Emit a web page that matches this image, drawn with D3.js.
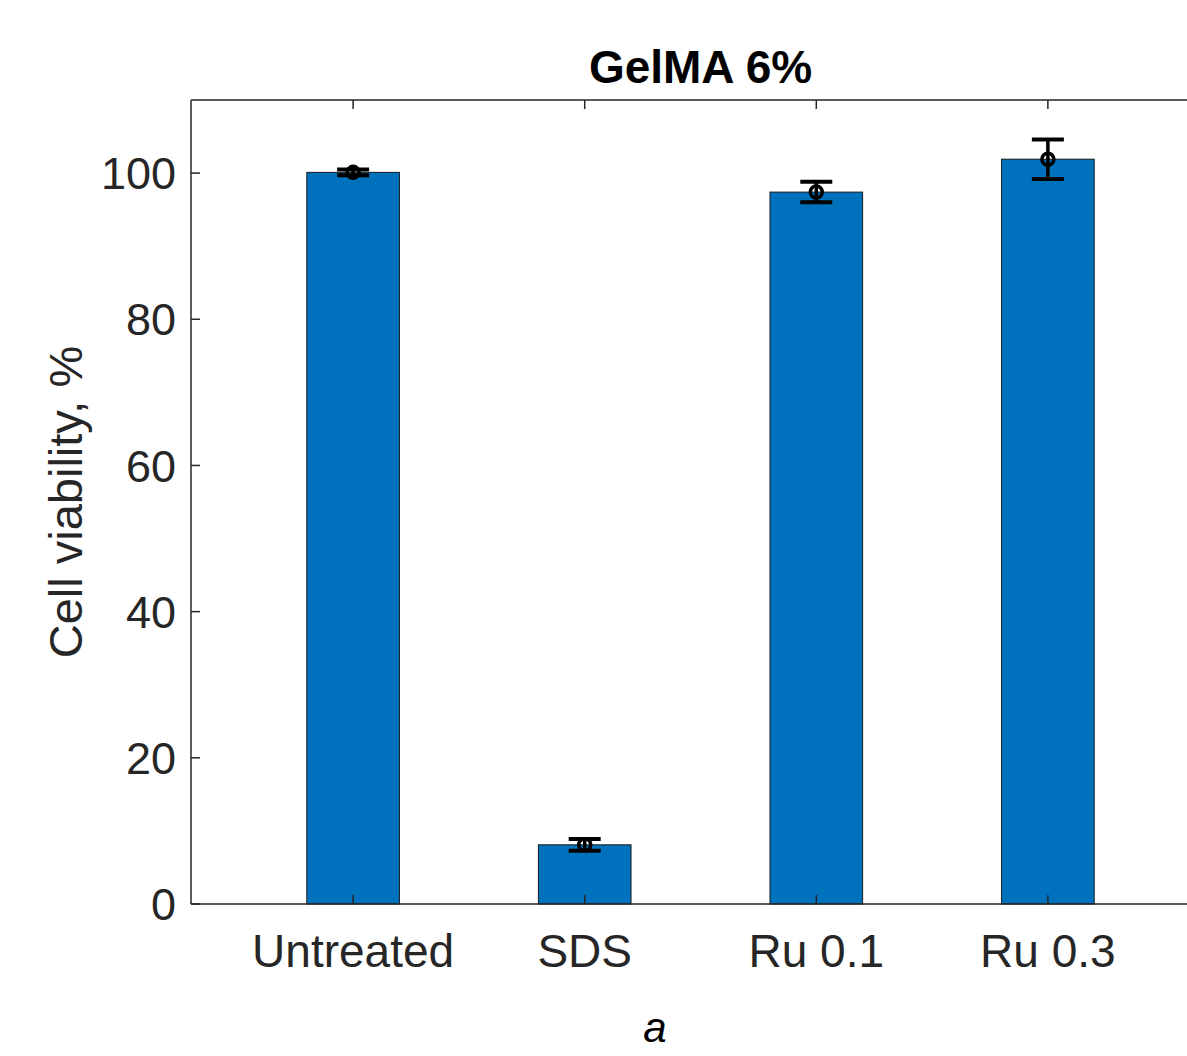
<!DOCTYPE html>
<html>
<head>
<meta charset="utf-8">
<script src="https://cdn.jsdelivr.net/npm/d3@7"></script>
<style>
  body { margin: 0; background: #fff; }
  text { font-family: "Liberation Sans", Arial, sans-serif; fill: #262626; }
</style>
</head>
<body>
<div id="chart"></div>
<script>
const categories = ["Untreated", "SDS", "Ru 0.1", "Ru 0.3"];
const means = [100.1, 8.1, 97.4, 101.9];
const errors = [0.4, 0.8, 1.4, 2.7];
const yTicks = [0, 20, 40, 60, 80, 100];

const svgWidth = 1187, svgHeight = 1056;
const margin = { top: 100, left: 191, bottom: 152 };
const plotWidth = 1210 - margin.left;   // axes box runs past the right edge
const plotHeight = svgHeight - margin.top - margin.bottom;

const svg = d3.select("#chart").append("svg")
  .attr("width", svgWidth)
  .attr("height", svgHeight);

const g = svg.append("g")
  .attr("transform", `translate(${margin.left}, ${margin.top})`);

// x positions 1..4 with limits like MATLAB
const x = d3.scaleLinear().domain([0.3, 4.7]).range([0, plotWidth]);
const y = d3.scaleLinear().domain([0, 110]).range([plotHeight, 0]);
const barW = x(1.4) - x(1);

// bars
g.selectAll("rect.bar")
  .data(means).enter()
  .append("rect")
  .attr("x", (d, i) => x(i + 1) - barW / 2)
  .attr("y", d => y(d))
  .attr("width", barW)
  .attr("height", d => y(0) - y(d))
  .attr("fill", "#0072BD")
  .attr("stroke", "#1a1a1a")
  .attr("stroke-width", 1);

// axes box
const lineCol = "#262626";
g.append("line").attr("x1", 0).attr("x2", plotWidth).attr("y1", plotHeight).attr("y2", plotHeight)
  .attr("stroke", lineCol).attr("stroke-width", 1.5);
g.append("line").attr("x1", 0).attr("x2", plotWidth).attr("y1", 0).attr("y2", 0)
  .attr("stroke", lineCol).attr("stroke-width", 1.5);
g.append("line").attr("x1", 0).attr("x2", 0).attr("y1", 0).attr("y2", plotHeight)
  .attr("stroke", lineCol).attr("stroke-width", 1.5);

// y ticks (inward) and labels
yTicks.forEach(t => {
  g.append("line").attr("x1", 0).attr("x2", 9).attr("y1", y(t)).attr("y2", y(t))
    .attr("stroke", lineCol).attr("stroke-width", 1.5);
  g.append("text")
    .attr("x", -15).attr("y", y(t)).attr("dy", "0.36em")
    .attr("text-anchor", "end")
    .attr("font-size", 45)
    .text(t);
});

// x ticks (inward, top and bottom) and labels
categories.forEach((c, i) => {
  const xx = x(i + 1);
  g.append("line").attr("x1", xx).attr("x2", xx).attr("y1", plotHeight).attr("y2", plotHeight - 9)
    .attr("stroke", lineCol).attr("stroke-width", 1.5);
  g.append("line").attr("x1", xx).attr("x2", xx).attr("y1", 0).attr("y2", 9)
    .attr("stroke", lineCol).attr("stroke-width", 1.5);
  g.append("text")
    .attr("x", xx).attr("y", plotHeight + 63)
    .attr("text-anchor", "middle")
    .attr("font-size", 46)
    .text(c);
});

// error bars
const capW = 16;
const eb = g.selectAll("g.err").data(means).enter().append("g");
eb.append("line")
  .attr("x1", (d, i) => x(i + 1)).attr("x2", (d, i) => x(i + 1))
  .attr("y1", (d, i) => y(d - errors[i])).attr("y2", (d, i) => y(d + errors[i]))
  .attr("stroke", "#000").attr("stroke-width", 3.5);
[-1, 1].forEach(s => {
  eb.append("line")
    .attr("x1", (d, i) => x(i + 1) - capW).attr("x2", (d, i) => x(i + 1) + capW)
    .attr("y1", (d, i) => y(d + s * errors[i])).attr("y2", (d, i) => y(d + s * errors[i]))
    .attr("stroke", "#000").attr("stroke-width", 4);
});
eb.append("circle")
  .attr("cx", (d, i) => x(i + 1)).attr("cy", d => y(d))
  .attr("r", 6)
  .attr("fill", "none").attr("stroke", "#000").attr("stroke-width", 3.5);

// title
svg.append("text")
  .attr("x", margin.left + plotWidth / 2).attr("y", 83)
  .attr("text-anchor", "middle")
  .attr("font-size", 46).attr("font-weight", "bold")
  .style("fill", "#000")
  .text("GelMA 6%");

// y label
svg.append("text")
  .attr("transform", `translate(82, ${margin.top + plotHeight / 2}) rotate(-90)`)
  .attr("text-anchor", "middle")
  .attr("font-size", 47)
  .text("Cell viability, %");

// panel letter
svg.append("text")
  .attr("x", 655).attr("y", 1042)
  .attr("text-anchor", "middle")
  .attr("font-size", 42).attr("font-style", "italic")
  .style("fill", "#000")
  .text("a");
</script>
</body>
</html>
